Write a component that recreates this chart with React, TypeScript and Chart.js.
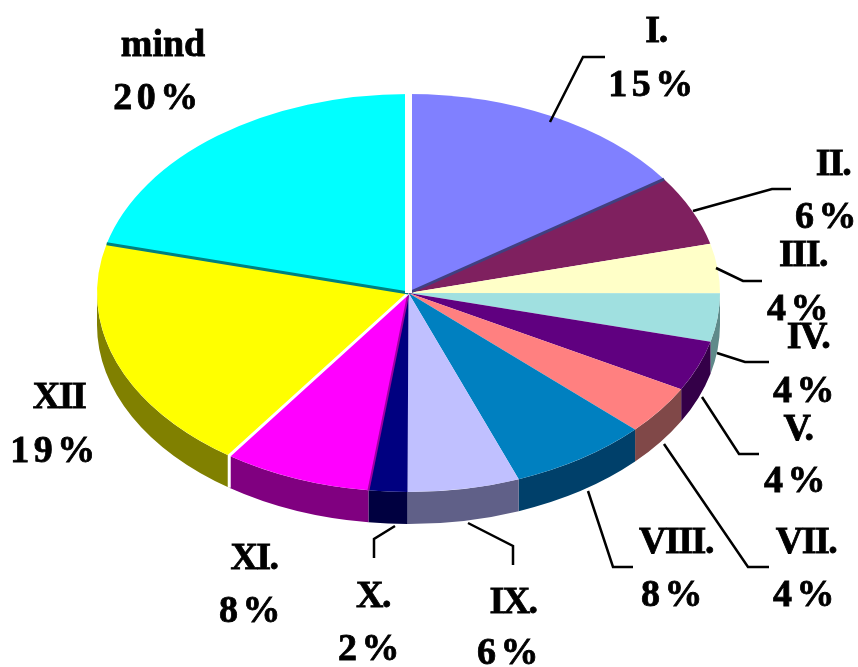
import React, { useEffect, useRef } from "react";
import { Chart, registerables } from "chart.js";

Chart.register(...registerables);

// Slice names and the percentages printed next to them
const sliceNames = ["I.", "II.", "III.", "IV.", "V.", "VII.", "VIII.", "IX.", "X.", "XI.", "XII", "mind"];
const printedPercents = [15, 6, 4, 4, 4, 4, 8, 6, 2, 8, 19, 20];
// Slice sizes as they are drawn in the picture
const sliceShares = [15.3, 5.7, 4, 3.9, 4.1, 4, 7.2, 5.8, 2, 7.7, 19.2, 21];
const topColors = ["#8080ff", "#7f205f", "#ffffc8", "#a0e0e0", "#600080", "#ff8080", "#0080c0", "#c0c0ff", "#000080", "#ff00ff", "#ffff00", "#00ffff"];
const sideColors = ["#404080", "#401030", "#808064", "#5f8a8a", "#340048", "#804848", "#00406a", "#606088", "#000040", "#800080", "#808000", "#008080"];

// Look of the 3D pie
const RX = 311.5;
const RY = 199;
const DEPTH = 32;

// Seam drawn at the start of a slice: [slice index, colour, width]
const seams: [number, string, number][] = [
  [1, "#404080", 3],
  [9, "#a000a0", 2],
  [10, "#ffffff", 3],
  [11, "#008080", 3],
  [0, "#ffffff", 7],
];

// Label placement: [name x, name baseline, percent x, percent baseline]
const labelPlaces = [
  [656, 42, 653, 96],
  [833, 175, 828, 228],
  [803, 266, 800, 320],
  [808, 348, 806, 402],
  [798, 440, 797, 492],
  [806, 553, 806, 606],
  [676, 553, 674, 606],
  [513, 613, 510, 664],
  [373, 607, 371, 660],
  [254, 569, 252, 622],
  [59, 408, 55, 462],
  [163, 56, 158, 109],
];

// Leader lines: three points each, slices without a line are left out
const leaders = [
  [[550, 122], [583, 57], [605, 57]],
  [[693, 211], [772, 189], [791, 189]],
  [[716, 268], [743, 281], [762, 281]],
  [[717, 353], [745, 362], [769, 362]],
  [[702, 397], [739, 454], [759, 454]],
  [[664, 444], [748, 567], [769, 567]],
  [[588, 491], [613, 567], [633, 567]],
  [[468, 523], [513, 546], [513, 565]],
  [[395, 526], [374, 539], [374, 558]],
];

const pie3d = {
  id: "pie3d",
  beforeDatasetsDraw(chart: any) {
    const { ctx } = chart;
    const arcs = chart.getDatasetMeta(0).data;
    const { x, y, outerRadius } = arcs[0];
    ctx.save();
    arcs.forEach((arc: any, i: number) => {
      const a0 = Math.max(arc.startAngle, 0);
      const a1 = Math.min(arc.endAngle, Math.PI);
      if (a1 <= a0) return;
      ctx.beginPath();
      ctx.ellipse(x, y, RX, RY, 0, a0, a1);
      ctx.ellipse(x, y + DEPTH, RX, RY, 0, a1, a0, true);
      ctx.closePath();
      ctx.fillStyle = sideColors[i];
      ctx.fill();
    });
    ctx.restore();
    ctx.save();
    ctx.translate(x, y);
    ctx.scale(RX / outerRadius, RY / outerRadius);
    ctx.translate(-x, -y);
  },
  afterDatasetsDraw(chart: any) {
    const { ctx } = chart;
    ctx.restore();
    const arcs = chart.getDatasetMeta(0).data;
    const { x, y } = arcs[0];
    ctx.save();
    seams.forEach(([index, color, width]) => {
      const a = arcs[index].startAngle;
      const ex = x + RX * Math.cos(a);
      const ey = y + RY * Math.sin(a);
      ctx.strokeStyle = color;
      ctx.lineWidth = width;
      ctx.beginPath();
      ctx.moveTo(x, y);
      ctx.lineTo(ex, ey);
      if (index === 10) ctx.lineTo(ex, ey + DEPTH);
      ctx.stroke();
    });
    ctx.restore();
  },
  afterDraw(chart: any) {
    const { ctx } = chart;
    ctx.save();
    ctx.strokeStyle = "#000000";
    ctx.lineWidth = 2.5;
    leaders.forEach((points) => {
      ctx.beginPath();
      points.forEach(([px, py], i) => (i === 0 ? ctx.moveTo(px, py) : ctx.lineTo(px, py)));
      ctx.stroke();
    });
    ctx.fillStyle = "#000000";
    ctx.textAlign = "center";
    ctx.textBaseline = "alphabetic";
    ctx.font = 'bold 38px "Liberation Serif", serif';
    ctx.lineWidth = 0.8;
    sliceNames.forEach((name, i) => {
      const [nx, ny, px, py] = labelPlaces[i];
      ctx.letterSpacing = name === "mind" ? "0px" : "-1.5px";
      ctx.fillText(name, nx, ny);
      ctx.strokeText(name, nx, ny);
      ctx.letterSpacing = "4.5px";
      ctx.fillText(`${printedPercents[i]}%`, px, py);
      ctx.strokeText(`${printedPercents[i]}%`, px, py);
    });
    ctx.restore();
  },
};

export default function App() {
  const ref = useRef<HTMLCanvasElement>(null);
  useEffect(() => {
    document.body.style.margin = "0";
    const chart = new Chart(ref.current!, {
      type: "pie",
      data: {
        labels: sliceNames,
        datasets: [{ data: sliceShares, backgroundColor: topColors, borderWidth: 0 }],
      },
      options: {
        responsive: false,
        animation: false,
        devicePixelRatio: 1,
        layout: { padding: { left: 0, right: 41, top: 0, bottom: 81 } },
        plugins: { legend: { display: false }, tooltip: { enabled: false } },
      },
      plugins: [pie3d],
    } as any);
    return () => chart.destroy();
  }, []);
  return <canvas ref={ref} width={858} height={667} style={{ display: "block", background: "#ffffff" }} />;
}
